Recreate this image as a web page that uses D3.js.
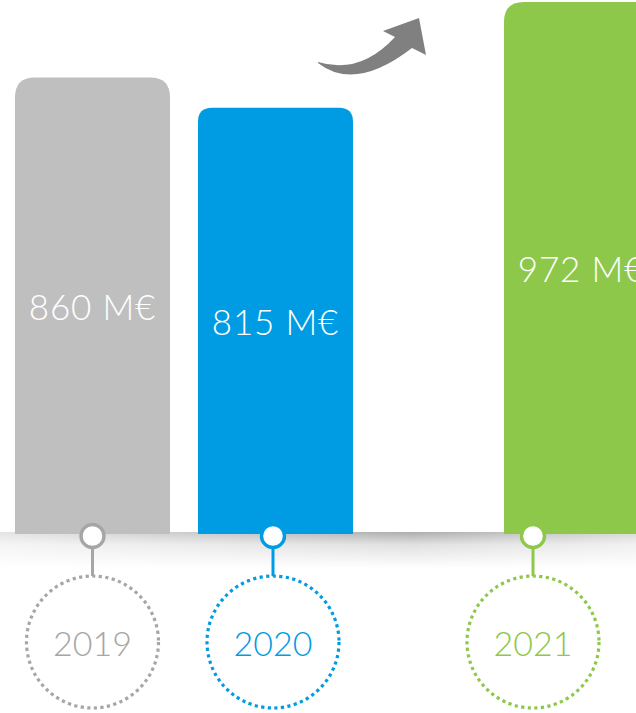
<!DOCTYPE html>
<html>
<head>
<meta charset="utf-8">
<script src="https://cdn.jsdelivr.net/npm/d3@7"></script>
<style>
  html, body { margin: 0; padding: 0; background: #ffffff; overflow: hidden; }
  svg { display: block; }
  text { font-family: Lato, "Open Sans", sans-serif; font-weight: 300; }
</style>
</head>
<body>
<svg id="chart" width="636" height="713"></svg>
<script>
// ---- data ----
const years = ["2019", "2020", "2021"];
const values = [860, 815, 972];
const valueLabels = ["860 M€", "815 M€", "972 M€"];
const barColors = ["#bfbfbf", "#009ce3", "#8dc84a"];
const accentColors = ["#a6a6a6", "#009ce3", "#8dc84a"];

const W = 636, H = 713;
const baseY = 534;
const barW = 155;

const svg = d3.select("#chart");
const defs = svg.append("defs");

// scales
const y = d3.scaleLinear().domain([183, 972]).range([baseY, 2]);
const xBar = d3.scaleOrdinal().domain(years).range([15, 198, 504]);
const xPin = d3.scaleOrdinal().domain(years).range([92.5, 273, 533]);
const color = d3.scaleOrdinal().domain(years).range(barColors);
const accent = d3.scaleOrdinal().domain(years).range(accentColors);

const data = years.map((yr, i) => ({ year: yr, value: values[i], label: valueLabels[i] }));

// shadow under the baseline
const vg = defs.append("linearGradient").attr("id", "shadowV").attr("x1", 0).attr("y1", 0).attr("x2", 0).attr("y2", 1);
vg.append("stop").attr("offset", "0%").attr("stop-color", "#000").attr("stop-opacity", 0.32);
vg.append("stop").attr("offset", "35%").attr("stop-color", "#000").attr("stop-opacity", 0.12);
vg.append("stop").attr("offset", "100%").attr("stop-color", "#000").attr("stop-opacity", 0);
const hg = defs.append("linearGradient").attr("id", "shadowH").attr("x1", 0).attr("y1", 0).attr("x2", 1).attr("y2", 0);
hg.append("stop").attr("offset", "0%").attr("stop-color", "#555");
hg.append("stop").attr("offset", "65%").attr("stop-color", "#fff");
hg.append("stop").attr("offset", "100%").attr("stop-color", "#777");
const mask = defs.append("mask").attr("id", "shadowMask");
mask.append("rect").attr("x", 0).attr("y", baseY - 2).attr("width", W).attr("height", 40).attr("fill", "url(#shadowH)");
svg.append("rect").attr("x", 0).attr("y", baseY - 2).attr("width", W).attr("height", 36)
  .attr("fill", "url(#shadowV)").attr("mask", "url(#shadowMask)");
svg.append("rect").attr("x", 0).attr("y", baseY - 40).attr("width", W).attr("height", 38).attr("fill", "#fff");

// bars with rounded top corners
function topRounded(x0, y0, w, h, r) {
  r = Math.min(r, h, w / 2);
  return `M${x0},${y0 + h} L${x0},${y0 + r} Q${x0},${y0} ${x0 + r},${y0} L${x0 + w - r},${y0} Q${x0 + w},${y0} ${x0 + w},${y0 + r} L${x0 + w},${y0 + h} Z`;
}
const radii = d3.scaleOrdinal().domain(years).range([20, 14, 20]);

svg.append("g").selectAll("path.bar").data(data).join("path")
  .attr("class", "bar")
  .attr("d", d => topRounded(xBar(d.year), y(d.value), barW, baseY - y(d.value), radii(d.year)))
  .attr("fill", d => color(d.year));

// value labels
svg.append("g").selectAll("text.val").data(data).join("text")
  .attr("class", "val")
  .attr("x", d => xBar(d.year) + barW / 2)
  .attr("y", d => (y(d.value) + baseY) / 2)
  .attr("text-anchor", "middle")
  .attr("dominant-baseline", "central")
  .attr("fill", "#ffffff")
  .attr("font-size", 35)
  .attr("letter-spacing", 0.8)
  .text(d => d.label);

// pins, stems, dotted circles, years
const circleR = 66;
const circleCY = 642;
const pins = svg.append("g").selectAll("g.pin").data(data).join("g").attr("class", "pin");
pins.append("line")
  .attr("x1", d => xPin(d.year)).attr("x2", d => xPin(d.year))
  .attr("y1", baseY + 10).attr("y2", circleCY - circleR)
  .attr("stroke", d => accent(d.year)).attr("stroke-width", 3);
pins.append("circle")
  .attr("cx", d => xPin(d.year)).attr("cy", baseY + 2)
  .attr("r", 11.5)
  .attr("fill", "#fff")
  .attr("stroke", d => accent(d.year)).attr("stroke-width", 3.4);
pins.append("circle")
  .attr("cx", d => xPin(d.year)).attr("cy", circleCY)
  .attr("r", circleR)
  .attr("fill", "none")
  .attr("stroke", d => accent(d.year)).attr("stroke-width", 3.2)
  .attr("stroke-dasharray", "3.2 3.4");
pins.append("text")
  .attr("x", d => xPin(d.year)).attr("y", circleCY)
  .attr("text-anchor", "middle")
  .attr("dominant-baseline", "central")
  .attr("fill", d => accent(d.year))
  .attr("font-size", 34)
  .text(d => d.year);

// curved arrow
svg.append("path")
  .attr("d", "M318,62 Q360,75 395,37 L383,31 L419,18 L426,55 L412,48 Q355,92 318,63 Z")
  .attr("fill", "#808080");
</script>
</body>
</html>
